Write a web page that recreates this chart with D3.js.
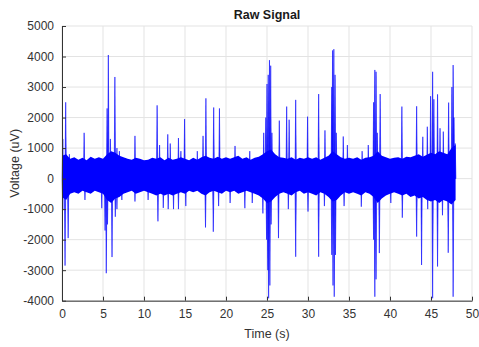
<!DOCTYPE html>
<html>
<head>
<meta charset="utf-8">
<script src="https://cdn.jsdelivr.net/npm/d3@7"></script>
<style>
  html, body { margin: 0; padding: 0; background: #fff; }
  svg text { font-family: "Liberation Sans", Arial, sans-serif; }
</style>
</head>
<body>
<script>
// axis ticks
const xTicks = [0, 5, 10, 15, 20, 25, 30, 35, 40, 45, 50];
const yTicks = [-4000, -3000, -2000, -1000, 0, 1000, 2000, 3000, 4000, 5000];

// noise band envelope, one value every 0.5 s from t = 0 to 48
const noiseStep = 0.5;
const noiseHi = [
  750, 800, 650, 700, 620, 680, 600, 720, 650, 700, 650,
  800, 900, 850, 750, 700, 650, 620, 680, 650, 600,
  620, 680, 650, 700, 600, 680, 620, 650, 700, 650,
  600, 680, 620, 700, 750, 680, 650, 720, 650, 700,
  650, 700, 750, 650, 700, 620, 680, 720, 800, 900,
  950, 800, 700, 680, 650, 700, 620, 680, 650, 700,
  650, 700, 620, 680, 750, 900, 800, 700, 650, 680,
  650, 700, 620, 680, 700, 750, 900, 750, 700, 650,
  680, 700, 650, 720, 700, 750, 800, 720, 780, 850,
  800, 900, 850, 800, 1000, 1100
];
const noiseLo = [
  -600, -700, -500, -450, -500, -400, -450, -500, -400, -450, -500,
  -700, -800, -650, -600, -500, -450, -400, -500, -450, -400,
  -450, -500, -550, -500, -550, -500, -550, -500, -450, -500,
  -400, -450, -400, -500, -550, -450, -400, -450, -500, -400,
  -450, -400, -500, -450, -400, -450, -500, -550, -650, -800,
  -750, -600, -500, -450, -500, -550, -450, -400, -500, -450,
  -500, -550, -450, -500, -600, -750, -700, -550, -450, -500,
  -450, -500, -550, -450, -500, -600, -800, -650, -550, -500,
  -450, -500, -550, -500, -600, -550, -650, -600, -700, -750,
  -700, -800, -700, -750, -850, -700
];

// positive spikes (time s, peak uV)
const upTimes = [
  0.1, 0.45, 0.9, 2.7, 5.5, 5.65, 5.9, 6.45, 6.7, 7.0, 8.9,
  11.6, 11.9, 12.9, 13.2, 14.2, 14.5, 14.95, 16.5, 17.2, 17.55, 18.5, 19.2,
  21.1, 22.9, 24.6, 24.85, 25.0, 25.15, 25.3, 25.45, 25.6,
  26.5, 27.4, 27.7, 28.5, 29.95, 31.3, 32.07,
  32.9, 33.0, 33.15, 33.3, 33.45, 34.3, 34.8, 36.6, 37.35,
  38.0, 38.15, 38.3, 38.45, 38.8, 41.45, 43.25, 44.0, 44.55, 44.95,
  45.2, 45.35, 45.8, 46.1, 46.5, 47.15, 47.55, 47.7, 47.8, 47.95
];
const upPeaks = [
  1300, 2500, 800, 1500, 2300, 4050, 1300, 3330, 1000, 900, 1400,
  2400, 1100, 1450, 1150, 1330, 900, 1950, 900, 1400, 2630, 2330, 2300,
  1070, 900, 1500, 2000, 3100, 3400, 3880, 3700, 1500,
  1900, 2360, 1930, 2580, 2030, 2770, 1580,
  3000, 4200, 4240, 3400, 1500, 1380, 1100, 900, 1100,
  2500, 3560, 3500, 1500, 2770, 2360, 2370, 1370, 1700, 2700,
  3500, 2600, 2760, 1650, 1540, 2490, 3000, 3720, 2000, 1150
];

// negative spikes (time s, trough uV)
const downTimes = [
  0.1, 0.37, 0.75, 2.8, 4.85, 5.25, 5.4, 5.55, 6.1, 6.5, 6.7, 7.3, 8.9,
  10.5, 11.7, 12.35, 12.95, 13.6, 14.2, 15.1, 17.5, 18.45, 19.1,
  20.5, 22.3, 23.2, 24.5, 24.95, 25.1, 25.2, 25.35, 25.5,
  26.4, 27.6, 28.5, 30.0, 31.3, 32.0, 32.9, 33.05, 33.2, 33.35,
  34.4, 36.5, 38.0, 38.15, 38.3, 38.7, 40.1, 41.5, 43.25, 43.85,
  44.6, 45.2, 45.8, 46.4, 47.1, 47.7
];
const downPeaks = [
  -1000, -2850, -1950, -700, -970, -1700, -3100, -1500, -2570, -1250, -1000, -700, -750,
  -700, -1400, -960, -1000, -1000, -1000, -900, -1600, -1740, -900,
  -800, -970, -800, -1140, -2000, -3000, -3920, -3500, -1500,
  -1950, -1000, -2560, -1080, -2560, -900, -2500, -3500, -3870, -2500,
  -900, -920, -2000, -3870, -3300, -2440, -800, -1280, -1900, -2830,
  -1000, -3920, -2880, -1200, -2430, -3870
];

const W = 479, H = 347;
const plot = { left: 62, right: 472, top: 26, bottom: 300.7 };
const blue = '#0000ff';
const ink = '#333333';

const svg = d3.select('body').append('svg')
  .attr('width', W)
  .attr('height', H);

const x = d3.scaleLinear().domain([0, 50]).range([plot.left, plot.right]);
const y = d3.scaleLinear().domain([-4000, 5000]).range([plot.bottom, plot.top]);

// grid
svg.append('g')
  .selectAll('line')
  .data(xTicks)
  .join('line')
  .attr('x1', d => x(d)).attr('x2', d => x(d))
  .attr('y1', plot.top).attr('y2', plot.bottom)
  .attr('stroke', '#e3e3e3');
svg.append('g')
  .selectAll('line')
  .data(yTicks)
  .join('line')
  .attr('x1', plot.left).attr('x2', plot.right)
  .attr('y1', d => y(d)).attr('y2', d => y(d))
  .attr('stroke', '#e3e3e3');

// noise band
const band = noiseHi.map((hi, i) => ({ t: i * noiseStep, hi, lo: noiseLo[i] }));
svg.append('path')
  .datum(band)
  .attr('fill', blue)
  .attr('d', d3.area().x(d => x(d.t)).y0(d => y(d.lo)).y1(d => y(d.hi)));

// spikes drawn as thin triangles from baseline
const spikePath = (t, v) => {
  const p = d3.path();
  p.moveTo(x(t - 0.09), y(0));
  p.lineTo(x(t), y(v));
  p.lineTo(x(t + 0.09), y(0));
  p.closePath();
  return p.toString();
};
const spikes = upTimes.map((t, i) => ({ t, v: upPeaks[i] }))
  .concat(downTimes.map((t, i) => ({ t, v: downPeaks[i] })));
svg.append('g')
  .selectAll('path')
  .data(spikes)
  .join('path')
  .attr('d', d => spikePath(d.t, d.v))
  .attr('fill', blue)
  .attr('fill-opacity', 0.8)
  .attr('stroke', blue)
  .attr('stroke-opacity', 0.7)
  .attr('stroke-width', 0.8)
  .attr('stroke-linejoin', 'round');

// axes (plain numbers with hyphen minus, like the original)
const plain = d => String(d);
const xAxis = svg.append('g')
  .attr('transform', `translate(0,${plot.bottom})`)
  .call(d3.axisBottom(x).tickValues(xTicks).tickFormat(plain).tickSize(-4).tickPadding(9).tickSizeOuter(0));
const yAxis = svg.append('g')
  .attr('transform', `translate(${plot.left},0)`)
  .call(d3.axisLeft(y).tickValues(yTicks).tickFormat(plain).tickSize(-4).tickPadding(8).tickSizeOuter(0));
[xAxis, yAxis].forEach(g => {
  g.select('.domain').attr('stroke', ink);
  g.selectAll('.tick line').attr('stroke', ink);
  g.selectAll('.tick text')
    .attr('fill', ink)
    .style('font-size', '12px');
});

// titles
svg.append('text')
  .attr('x', (plot.left + plot.right) / 2)
  .attr('y', 19)
  .attr('text-anchor', 'middle')
  .attr('fill', '#1a1a1a')
  .style('font-size', '12.5px')
  .style('font-weight', 'bold')
  .text('Raw Signal');
svg.append('text')
  .attr('x', (plot.left + plot.right) / 2)
  .attr('y', 338)
  .attr('text-anchor', 'middle')
  .attr('fill', ink)
  .style('font-size', '12.5px')
  .text('Time (s)');
svg.append('text')
  .attr('transform', `translate(19,${(plot.top + plot.bottom) / 2}) rotate(-90)`)
  .attr('text-anchor', 'middle')
  .attr('fill', ink)
  .style('font-size', '12.5px')
  .text('Voltage (uV)');
</script>
</body>
</html>
